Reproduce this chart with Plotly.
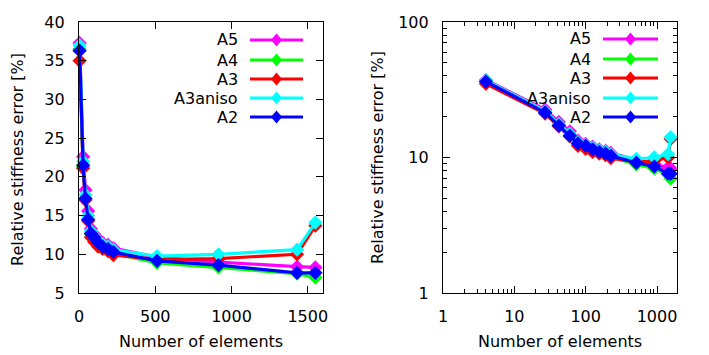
import plotly.graph_objects as go

W, H = 709, 355

elements = [4, 27, 42, 60, 78, 100, 125, 155, 190, 225, 512, 915, 1430, 1550]
series_names = ["A5", "A4", "A3", "A3aniso", "A2"]
series_colors = ["#ff00ff", "#00ff00", "#ff0000", "#00ffff", "#0000ff"]
a5 = [37.3, 22.6, 18.3, 15.6, 13.3, 12.6, 12.0, 11.5, 11.2, 10.8, 9.6, 9.0, 8.4, 8.3]
a4 = [36.5, 21.3, 17.1, 14.4, 12.6, 12.0, 11.4, 10.9, 10.5, 10.1, 8.9, 8.3, 7.5, 7.0]
a3 = [35.0, 21.1, 17.0, 14.3, 12.2, 11.6, 11.0, 10.7, 10.4, 9.9, 9.3, 9.45, 10.0, 13.7]
a3aniso = [37.0, 22.0, 17.7, 15.0, 13.0, 12.4, 11.8, 11.3, 11.0, 10.6, 9.75, 10.0, 10.6, 14.1]
a2 = [36.3, 21.5, 17.2, 14.5, 12.7, 12.2, 11.5, 11.0, 10.7, 10.3, 9.15, 8.6, 7.6, 7.6]
series_values = [a5, a4, a3, a3aniso, a2]

lin_xticks = [0, 500, 1000, 1500]
lin_yticks = [5, 10, 15, 20, 25, 30, 35, 40]
log_xticks = [1, 10, 100, 1000]
log_yticks = [1, 10, 100]
x_title = "Number of elements"
y_title = "Relative stiffness error [%]"

FONT = "DejaVu Sans"
FS = 16

fig = go.Figure()
for name, col, vals in zip(series_names, series_colors, series_values):
    for xa, ya in (("x", "y"), ("x2", "y2")):
        fig.add_trace(go.Scatter(
            x=elements, y=vals, name=name, mode="lines+markers",
            xaxis=xa, yaxis=ya, showlegend=False, cliponaxis=False,
            line=dict(color=col, width=3.2),
            marker=dict(symbol="diamond", size=11, color=col, line=dict(width=0)),
        ))

def px(x):
    return x / W

def py(y):
    return 1 - y / H

common = dict(showline=True, linecolor="black", linewidth=1.2, mirror="allticks",
              ticks="inside", ticklen=7, tickwidth=1, tickcolor="black",
              showgrid=False, zeroline=False, automargin=False,
              tickfont=dict(family=FONT, size=FS, color="black"))

minor_log_x = [m * d for d in (1, 10, 100, 1000) for m in range(2, 10) if m * d < 1900]
minor_log_y = [m * d for d in (1, 10) for m in range(2, 10)]

fig.update_layout(
    width=W, height=H, autosize=False,
    margin=dict(l=0, r=0, t=0, b=0, pad=0),
    paper_bgcolor="white", plot_bgcolor="white",
    font=dict(family=FONT, size=FS, color="black"),
    xaxis=dict(domain=[px(79), px(323)], range=[0, 1600], tickvals=lin_xticks,
               ticklabelstandoff=9, anchor="y", **common),
    yaxis=dict(domain=[py(293), py(22)], range=[5, 40], tickvals=lin_yticks,
               ticklabelstandoff=10, anchor="x", **common),
    xaxis2=dict(domain=[px(443), px(677)], type="log", range=[0, 3.28], tickvals=log_xticks,
                ticktext=[str(v) for v in log_xticks], ticklabelstandoff=9, anchor="y2",
                minor=dict(tickvals=minor_log_x, ticks="inside", ticklen=4,
                           tickcolor="black", showgrid=False),
                **common),
    yaxis2=dict(domain=[py(293), py(22)], type="log", range=[0, 2], tickvals=log_yticks,
                ticktext=[str(v) for v in log_yticks], ticklabelstandoff=10, anchor="x2",
                minor=dict(tickvals=minor_log_y, ticks="inside", ticklen=4,
                           tickcolor="black", showgrid=False),
                **common),
)

annotations = []
shapes = []
# axis titles
for cx in (201, 560):
    annotations.append(dict(text=x_title, x=px(cx), y=py(341), xref="paper", yref="paper",
                            showarrow=False, xanchor="center", yanchor="middle",
                            font=dict(family=FONT, size=FS, color="black")))
for cx, cy in ((17, 160), (377, 157)):
    annotations.append(dict(text=y_title, x=px(cx), y=py(cy), xref="paper", yref="paper",
                            showarrow=False, xanchor="center", yanchor="middle", textangle=-90,
                            font=dict(family=FONT, size=FS, color="black")))

# manual legends (text left of sample, gnuplot style)
legend_specs = [
    dict(text_right=240, line_x=(250, 303), ys=[40, 60, 79, 98, 117]),
    dict(text_right=593, line_x=(603, 658), ys=[39, 59, 78, 98, 117]),
]
for spec in legend_specs:
    for name, col, yy in zip(series_names, series_colors, spec["ys"]):
        annotations.append(dict(text=name, x=px(spec["text_right"]), y=py(yy), xref="paper",
                                yref="paper", showarrow=False, xanchor="right", yanchor="middle",
                                font=dict(family=FONT, size=FS, color="black")))
        x0, x1 = spec["line_x"]
        shapes.append(dict(type="line", xref="paper", yref="paper", x0=px(x0), x1=px(x1),
                           y0=py(yy), y1=py(yy), line=dict(color=col, width=3.2)))
        cx = (x0 + x1) / 2
        hw, hh = 5.5, 6.5
        path = (f"M {px(cx - hw)} {py(yy)} L {px(cx)} {py(yy - hh)} "
                f"L {px(cx + hw)} {py(yy)} L {px(cx)} {py(yy + hh)} Z")
        shapes.append(dict(type="path", xref="paper", yref="paper", path=path,
                           fillcolor=col, line=dict(width=0)))

fig.update_layout(annotations=annotations, shapes=shapes)
fig.write_html("out.html")
